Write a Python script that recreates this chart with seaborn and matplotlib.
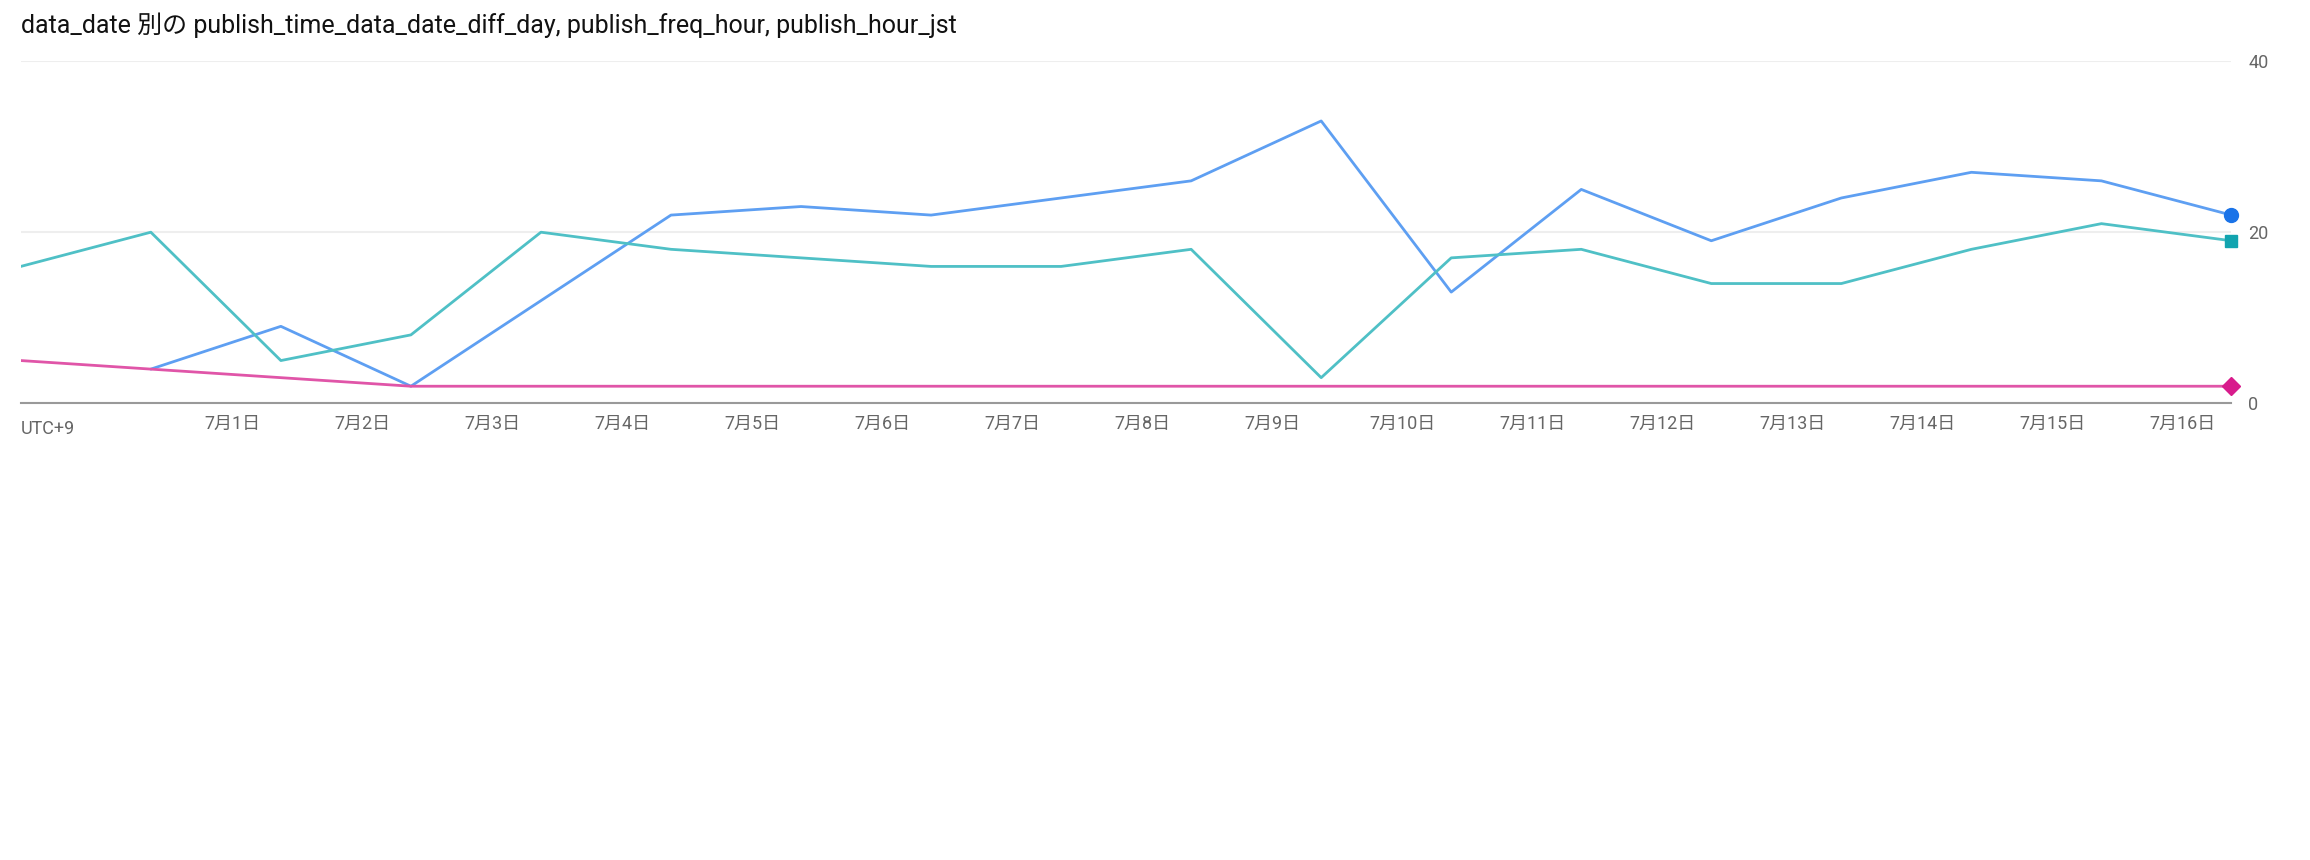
import numpy as np
import pandas as pd
import matplotlib
matplotlib.use('Agg')
import matplotlib.pyplot as plt
import seaborn as sns

# データ
dates = pd.date_range('2024-06-29 09:00', '2024-07-16 09:00', freq='D')
diff_day = [16, 20, 5, 8, 20, 18, 17, 16, 16, 18, 3, 17, 18, 14, 14, 18, 21, 19]
freq_hour = [np.nan, 4, 9, 2, 12, 22, 23, 22, 24, 26, 33, 13, 25, 19, 24, 27, 26, 22]
hour_jst = [5, 4, 3, 2, 2, 2, 2, 2, 2, 2, 2, 2, 2, 2, 2, 2, 2, 2]

series = [
    ('publish_freq_hour', freq_hour, '#5e9ff2', '#1a73e8', 'o'),
    ('publish_time_data_date_diff_day', diff_day, '#4fc0c6', '#12a4af', 's'),
    ('publish_hour_jst', hour_jst, '#e055a8', '#d81b8c', 'D'),
]

sns.set_theme(style='white')
plt.rcParams['font.family'] = ['Roboto', 'Noto Sans CJK JP', 'DejaVu Sans']

fig = plt.figure(figsize=(23.1, 8.6), dpi=100)
ax = fig.add_axes([0.009, 0.531, 0.957, 0.398])

for name, vals, c, mc, m in series:
    df = pd.DataFrame({'date': dates, 'v': vals})
    sns.lineplot(data=df, x='date', y='v', ax=ax, color=c, linewidth=2)
    ax.plot(dates[-1], vals[-1], marker=m, color=mc, markersize=10 if m == 'o' else 9, clip_on=False, zorder=5)

ax.set_xlim(dates[0], dates[-1])
ax.set_ylim(0, 40)
ax.set_yticks([0, 20, 40])
ax.yaxis.tick_right()
ax.tick_params(axis='y', length=0, labelsize=13, labelcolor='#666666', pad=12)
ax.tick_params(axis='x', length=0, labelsize=13, labelcolor='#666666', pad=8)
ticks = pd.date_range('2024-07-01', '2024-07-16', freq='D')
ax.set_xticks(ticks)
ax.set_xticklabels([f'7月{d.day}日' for d in ticks])
ax.grid(axis='y', color='#eeeeee', linewidth=1.5)
for s in ['top', 'left', 'right']:
    ax.spines[s].set_visible(False)
ax.spines['bottom'].set_color('#999999')
ax.spines['bottom'].set_linewidth(1.5)
ax.set_xlabel('')
ax.set_ylabel('')
ax.text(0, -0.075, 'UTC+9', transform=ax.transAxes, fontsize=13, color='#666666', va='center')

fig.text(0.009, 0.985, 'data_date 別の publish_time_data_date_diff_day, publish_freq_hour, publish_hour_jst',
         fontsize=18, va='top', color='#111111')

fig.savefig('out.png', dpi=100)
